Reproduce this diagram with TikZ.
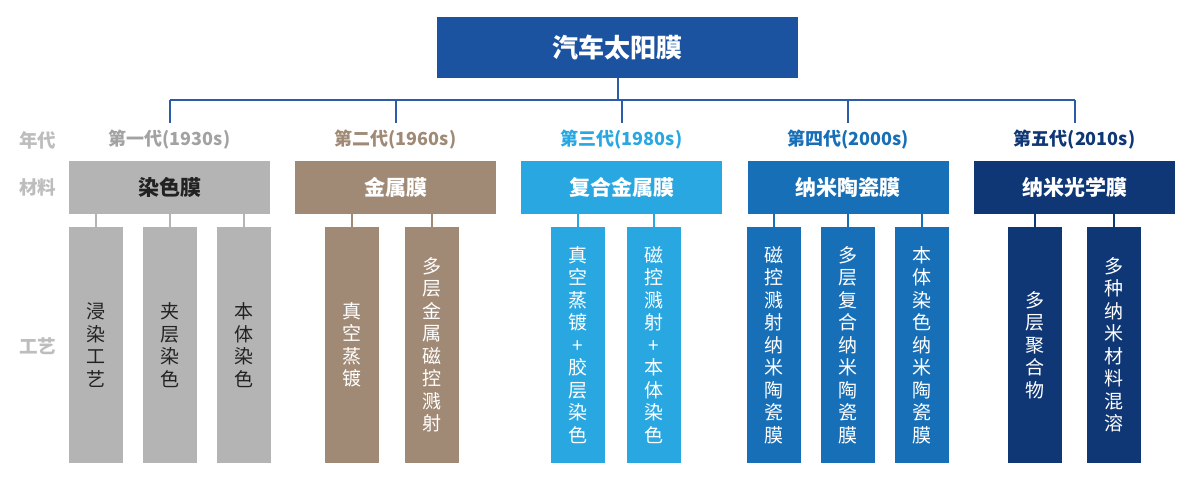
\documentclass[tikz,border=0pt]{standalone}
\usepackage{fontspec}
\setmainfont{Noto Sans CJK SC}
\usetikzlibrary{positioning, calc}

\definecolor{titleblue}{HTML}{1B53A0}
\definecolor{linkblue}{HTML}{2C5CA8}
\definecolor{genone}{HTML}{B4B4B4}
\definecolor{gentwo}{HTML}{A08A76}
\definecolor{genthree}{HTML}{29A7E1}
\definecolor{genfour}{HTML}{176FB8}
\definecolor{genfive}{HTML}{0F3776}
\definecolor{rowgray}{HTML}{BDBDBD}
\definecolor{darktext}{HTML}{222222}

\begin{document}
\begin{tikzpicture}[
    x=1pt, y=-1pt,
    rootbox/.style  ={fill=titleblue, text=white, minimum width=361pt,
                      minimum height=61pt, font=\fontsize{26}{30}\selectfont\bfseries},
    genlabel/.style ={font=\fontsize{18}{20}\selectfont\bfseries, text height=13pt,
                      text depth=3pt, inner ysep=9.5pt},
    rowlabel/.style ={font=\fontsize{18.5}{20}\selectfont\bfseries, text=rowgray},
    matbox/.style   ={minimum width=201pt, minimum height=53pt, text=white,
                      font=\fontsize{21}{24}\selectfont\bfseries},
    procbox/.style  ={minimum width=54pt, minimum height=236pt, text=white,
                      align=center, inner sep=0pt,
                      font=\fontsize{19}{22.5}\selectfont},
    tree/.style     ={draw=linkblue, line width=2pt},
    stub/.style     ={line width=2pt}
]
\useasboundingbox (0,0) rectangle (1196,489);

% =================== Root ===================
\node[rootbox] (root) at (617.5,47.5) {汽车太阳膜};

% =================== Row labels (left) ===================
\node[rowlabel] (rowera)  at (38,140) {年代};
\node[rowlabel] (rowmat)  at (38,187) {材料};
\node[rowlabel] (rowproc) at (38,346) {工艺};

% =================== Generations ===================
\node[genlabel, text=genone!90!black] (g1) at (169.5,141) {第一代(1930s)};
\node[genlabel, text=gentwo]          (g2) at (395.5,141) {第二代(1960s)};
\node[genlabel, text=genthree]        (g3) at (621.5,141) {第三代(1980s)};
\node[genlabel, text=genfour]         (g4) at (848,141)   {第四代(2000s)};
\node[genlabel, text=genfive]         (g5) at (1074.5,141) {第五代(2010s)};

% =================== Materials ===================
\node[matbox, fill=genone, text=darktext] (m1) at (169.5,187.5) {染色膜};
\node[matbox, fill=gentwo]   (m2) at (395.5,187.5) {金属膜};
\node[matbox, fill=genthree] (m3) at (621.5,187.5) {复合金属膜};
\node[matbox, fill=genfour]  (m4) at (848,187.5)   {纳米陶瓷膜};
\node[matbox, fill=genfive]  (m5) at (1074.5,187.5) {纳米光学膜};

% =================== Processes ===================
\node[procbox, fill=genone, text=darktext] (p11) at (96,345)  {浸\\染\\工\\艺};
\node[procbox, fill=genone, text=darktext] (p12) at (170,345) {夹\\层\\染\\色};
\node[procbox, fill=genone, text=darktext] (p13) at (243.5,345) {本\\体\\染\\色};

\node[procbox, fill=gentwo] (p21) at (351.5,345) {真\\空\\蒸\\镀};
\node[procbox, fill=gentwo] (p22) at (432,345)   {多\\层\\金\\属\\磁\\控\\溅\\射};

\node[procbox, fill=genthree] (p31) at (577.5,345) {真\\空\\蒸\\镀\\+\\胶\\层\\染\\色};
\node[procbox, fill=genthree] (p32) at (654,345)   {磁\\控\\溅\\射\\+\\本\\体\\染\\色};

\node[procbox, fill=genfour] (p41) at (774,345) {磁\\控\\溅\\射\\纳\\米\\陶\\瓷\\膜};
\node[procbox, fill=genfour] (p42) at (848,345) {多\\层\\复\\合\\纳\\米\\陶\\瓷\\膜};
\node[procbox, fill=genfour] (p43) at (922,345) {本\\体\\染\\色\\纳\\米\\陶\\瓷\\膜};

\node[procbox, fill=genfive] (p51) at (1035,345)  {多\\层\\聚\\合\\物};
\node[procbox, fill=genfive] (p52) at (1114,345)  {多\\种\\纳\\米\\材\\料\\混\\溶};

% --- Tree: root -> generations ---
\draw[tree] (root.south) -- ++(0,22) coordinate (hub);
\draw[tree] (hub -| g1) -- (hub -| g5);
\foreach \g in {g1,g2,g3,g4,g5}
    \draw[tree] (hub -| \g) -- (\g.north);

% --- Stubs: material -> process ---
\foreach \p/\m/\c in {p11/m1/genone, p12/m1/genone, p13/m1/genone,
                      p21/m2/gentwo, p22/m2/gentwo,
                      p31/m3/genthree, p32/m3/genthree,
                      p41/m4/genfour, p42/m4/genfour, p43/m4/genfour,
                      p51/m5/genfive, p52/m5/genfive}
    \draw[stub, draw=\c] (\m.south -| \p.north) -- (\p.north);

\end{tikzpicture}
\end{document}
